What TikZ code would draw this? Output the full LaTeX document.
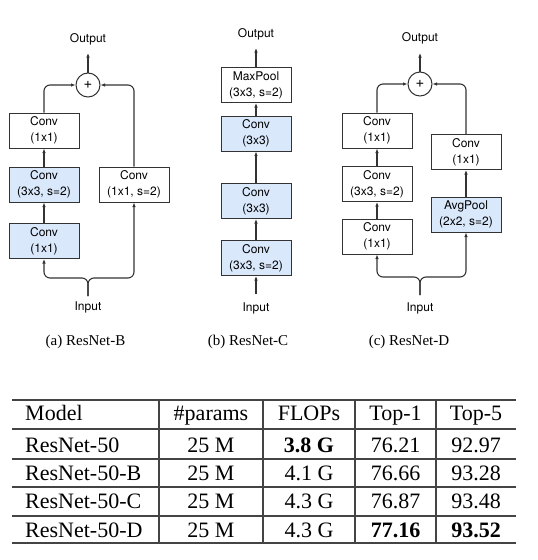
\documentclass[tikz,border=0pt]{standalone}
\usepackage{fontspec}
\setmainfont{Liberation Serif}
\newfontfamily\diagfont{TeX Gyre Heros}
\usetikzlibrary{arrows.meta}
\definecolor{boxblue}{HTML}{DAE8FC}
\definecolor{linegray}{HTML}{333333}
\definecolor{rulegray}{HTML}{444444}
\begin{document}
\begin{tikzpicture}[x=1pt,y=-1pt,
  blk/.style={draw=linegray, line width=1pt, minimum width=70pt, minimum height=35pt, inner sep=0pt, align=center, font=\diagfont\fontsize{12}{16}\selectfont, fill=white},
  blu/.style={blk, fill=boxblue},
  lbl/.style={font=\diagfont\fontsize{12}{14}\selectfont, inner sep=1pt},
  sumnode/.style={circle, draw=linegray, line width=1pt, minimum size=24pt, inner sep=0pt, font=\diagfont\fontsize{15}{16}\selectfont},
  conn/.style={draw=linegray, line width=1.1pt, -{Latex[length=4.5pt,width=3.5pt]}},
  capt/.style={font=\fontsize{15}{18}\selectfont, anchor=base, inner sep=0pt},
  cell/.style={font=\fontsize{22}{26}\selectfont, anchor=base, inner sep=0pt},
  thinrule/.style={draw=rulegray, line width=1.2pt},
  thickrule/.style={draw=rulegray, line width=2pt},
]
\useasboundingbox (0,0) rectangle (538,560);

% ---------- (a) ResNet-B ----------
\node[sumnode] (pA) at (88,85) {+};
\node[lbl] (outA) at (88,39) {Output};
\coordinate (oA) at (88,53);
\node[blk] (a3) at (44,130.5) {Conv\\(1x1)};
\node[blu] (a2) at (44,184.5) {Conv\\(3x3, s=2)};
\node[blu] (a1) at (44,241) {Conv\\(1x1)};
\node[blk] (ar) at (134,184.5) {Conv\\(1x1, s=2)};
\node[lbl] (inA) at (88,307) {Input};
\coordinate (jA) at (88,296);
\coordinate (bA) at (88,278);
\draw[conn] (pA) -- (oA);
\draw[conn, rounded corners=6pt] (a3.north) |- (pA.west);
\draw[conn, rounded corners=6pt] (ar.north) |- (pA.east);
\draw[conn] (a2) -- (a3);
\draw[conn] (a1) -- (a2);
\draw[conn, rounded corners=6pt] (jA) |- (a1.south |- bA) -- (a1.south);
\draw[conn, rounded corners=6pt] (jA) |- (ar.south |- bA) -- (ar.south);

% ---------- (b) ResNet-C ----------
\node[lbl] (outB) at (256,34) {Output};
\coordinate (oB) at (256,48);
\node[blk] (b4) at (256,85) {MaxPool\\(3x3, s=2)};
\node[blu] (b3) at (256,133.5) {Conv\\(3x3)};
\node[blu] (b2) at (256,201) {Conv\\(3x3)};
\node[blu] (b1) at (256,258) {Conv\\(3x3, s=2)};
\node[lbl] (inB) at (256,308) {Input};
\coordinate (jB) at (256,294);
\draw[conn] (b4) -- (oB);
\draw[conn] (b3) -- (b4);
\draw[conn] (b2) -- (b3);
\draw[conn] (b1) -- (b2);
\draw[conn] (jB) -- (b1);

% ---------- (c) ResNet-D ----------
\node[sumnode] (pC) at (420,84) {+};
\node[lbl] (outC) at (420,38) {Output};
\coordinate (oC) at (420,53);
\node[blk] (c3) at (377,130.5) {Conv\\(1x1)};
\node[blk] (c2) at (377,184) {Conv\\(3x3, s=2)};
\node[blk] (c1) at (377,236.5) {Conv\\(1x1)};
\node[blk] (cr2) at (466,152) {Conv\\(1x1)};
\node[blu] (cr1) at (466,214.5) {AvgPool\\(2x2, s=2)};
\node[lbl] (inC) at (420,308) {Input};
\coordinate (jC) at (420,295);
\coordinate (bC) at (420,277);
\draw[conn] (pC) -- (oC);
\draw[conn, rounded corners=6pt] (c3.north) |- (pC.west);
\draw[conn, rounded corners=6pt] (cr2.north) |- (pC.east);
\draw[conn] (c2) -- (c3);
\draw[conn] (c1) -- (c2);
\draw[conn] (cr1) -- (cr2);
\draw[conn, rounded corners=6pt] (jC) |- (c1.south |- bC) -- (c1.south);
\draw[conn, rounded corners=6pt] (jC) |- (cr1.south |- bC) -- (cr1.south);

% ---------- captions ----------
\node[capt] (capA) at (85.5,345) {(a) ResNet-B};
\node[capt] (capB) at (248,345) {(b) ResNet-C};
\node[capt] (capC) at (409,345) {(c) ResNet-D};

% ---------- table ----------
\draw[thinrule] (12,400) -- (516,400);
\draw[thickrule] (12,429) -- (516,429);
\draw[thinrule] (12,459) -- (516,459);
\draw[thinrule] (12,487) -- (516,487);
\draw[thinrule] (12,516) -- (516,516);
\draw[thickrule] (12,543) -- (516,543);
\foreach \vx in {159,263,355,436} {\draw[thinrule] (\vx,400) -- (\vx,543);}

\node[cell, anchor=base west] (h1) at (25,420) {Model};
\node[cell] (h2) at (211,420) {\#params};
\node[cell] (h3) at (309,420) {FLOPs};
\node[cell] (h4) at (395.5,420) {Top-1};
\node[cell] (h5) at (476,420) {Top-5};

\node[cell, anchor=base west] (r1c1) at (25,452) {ResNet-50};
\node[cell] (r1c2) at (211,452) {25 M};
\node[cell] (r1c3) at (309,452) {\bfseries 3.8 G};
\node[cell] (r1c4) at (395.5,452) {76.21};
\node[cell] (r1c5) at (476,452) {92.97};

\node[cell, anchor=base west] (r2c1) at (25,480) {ResNet-50-B};
\node[cell] (r2c2) at (211,480) {25 M};
\node[cell] (r2c3) at (309,480) {4.1 G};
\node[cell] (r2c4) at (395.5,480) {76.66};
\node[cell] (r2c5) at (476,480) {93.28};

\node[cell, anchor=base west] (r3c1) at (25,508.5) {ResNet-50-C};
\node[cell] (r3c2) at (211,508.5) {25 M};
\node[cell] (r3c3) at (309,508.5) {4.3 G};
\node[cell] (r3c4) at (395.5,508.5) {76.87};
\node[cell] (r3c5) at (476,508.5) {93.48};

\node[cell, anchor=base west] (r4c1) at (25,537) {ResNet-50-D};
\node[cell] (r4c2) at (211,537) {25 M};
\node[cell] (r4c3) at (309,537) {4.3 G};
\node[cell] (r4c4) at (395.5,537) {\bfseries 77.16};
\node[cell] (r4c5) at (476,537) {\bfseries 93.52};
\end{tikzpicture}
\end{document}
